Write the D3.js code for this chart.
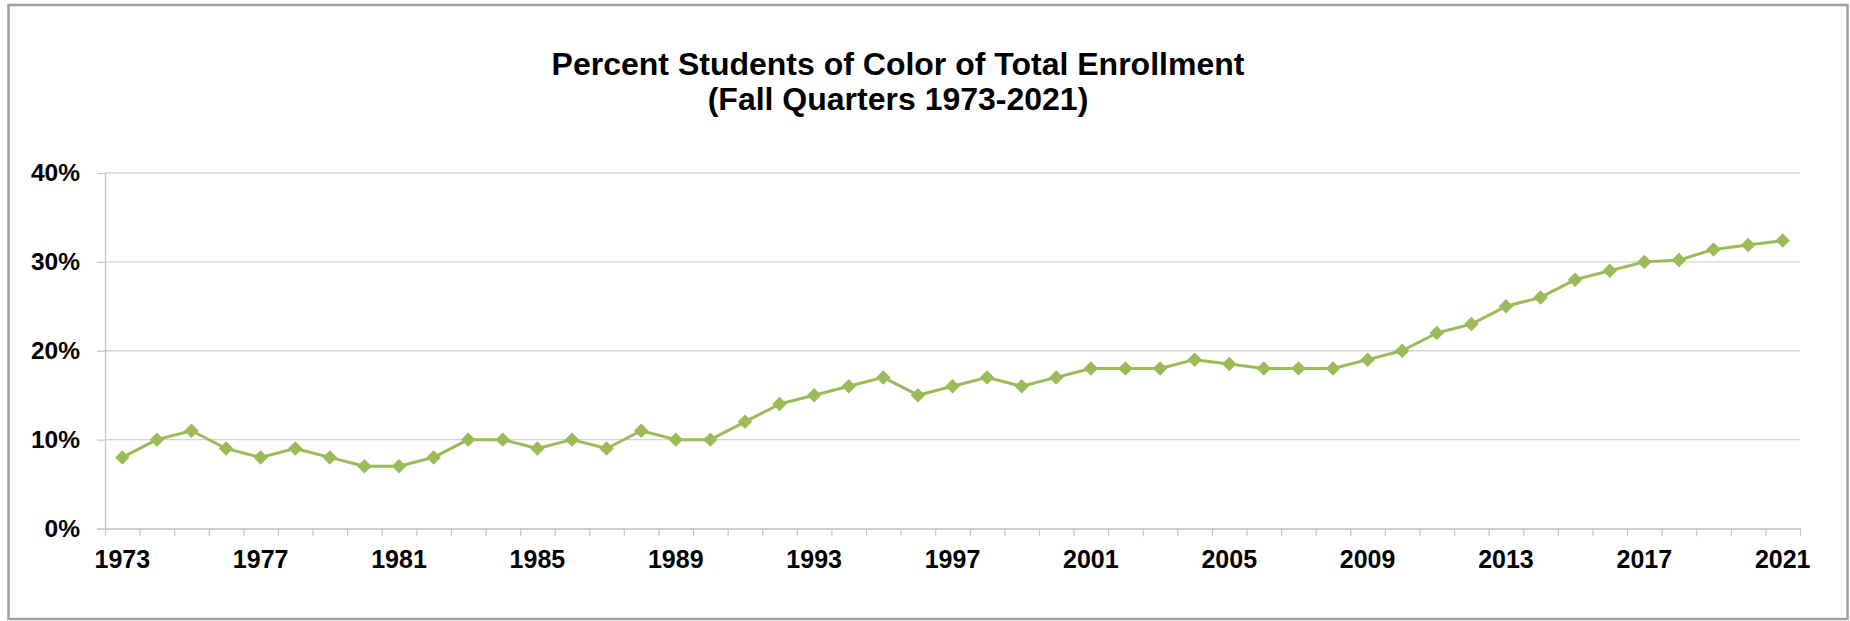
<!DOCTYPE html>
<html>
<head>
<meta charset="utf-8">
<script src="https://cdn.jsdelivr.net/npm/d3@7/dist/d3.min.js"></script>
<style>
  html, body { margin: 0; padding: 0; background: #fff; }
  svg { display: block; }
  text { font-family: Arial, "Liberation Sans", sans-serif; font-weight: bold; fill: #000; }
</style>
</head>
<body>
<svg id="chart" width="1850" height="621"></svg>
<script>
// ---- data ----
const years = [1973,1974,1975,1976,1977,1978,1979,1980,1981,1982,1983,1984,1985,1986,1987,1988,1989,
               1990,1991,1992,1993,1994,1995,1996,1997,1998,1999,2000,2001,2002,2003,2004,2005,2006,2007,
               2008,2009,2010,2011,2012,2013,2014,2015,2016,2017,2018,2019,2020,2021];
const percentColor = [8,10,11,9,8,9,8,7,7,8,10,10,9,10,9,11,10,
                      10,12,14,15,16,17,15,16,17,16,17,18,18,18,19,18.5,18,18,
                      18,19,20,22,23,25,26,28,29,30,30.2,31.4,31.9,32.4];
const yTicks = [0, 10, 20, 30, 40];
const xLabelYears = [1973,1977,1981,1985,1989,1993,1997,2001,2005,2009,2013,2017,2021];
const titleLines = ["Percent Students of Color of Total Enrollment", "(Fall Quarters 1973-2021)"];

// ---- layout ----
const plot = { left: 105, right: 1800, top: 173, bottom: 528.5 };
const green = "#9BBB59";

const svg = d3.select("#chart");

// outer frame
svg.append("rect")
  .attr("x", 8.5).attr("y", 5).attr("width", 1839).attr("height", 614)
  .attr("fill", "#fff").attr("stroke", "#a0a0a0").attr("stroke-width", 2.5);

// title
svg.append("g").selectAll("text").data(titleLines).join("text")
  .attr("x", 898).attr("y", (d, i) => 75 + i * 35)
  .attr("text-anchor", "middle")
  .style("font-size", "32px")
  .text(d => d);

// scales
const x = d3.scaleBand().domain(years).range([plot.left, plot.right]).paddingInner(0).paddingOuter(0);
const xBound = d3.scaleLinear().domain([0, years.length]).range([plot.left, plot.right]);
const y = d3.scaleLinear().domain([0, 40]).range([plot.bottom, plot.top]);
const cx = d => x(d) + x.bandwidth() / 2;

// gridlines
svg.append("g").selectAll("line").data(yTicks.filter(t => t > 0)).join("line")
  .attr("x1", plot.left).attr("x2", plot.right)
  .attr("y1", d => y(d)).attr("y2", d => y(d))
  .attr("stroke", "#d4d4d4").attr("stroke-width", 1.4);

// y axis
const yAxis = svg.append("g").attr("transform", `translate(${plot.left},0)`)
  .call(d3.axisLeft(y).tickValues(yTicks).tickFormat(d => d + "%").tickSize(8).tickPadding(17));
yAxis.select(".domain").attr("stroke", "#c4c4c4").attr("stroke-width", 1.2);
yAxis.selectAll(".tick line").attr("stroke", "#c4c4c4").attr("stroke-width", 1.2);
yAxis.selectAll("text").style("font-size", "24.5px").attr("font-family", null);

// x axis tick marks (category boundaries)
const xTickAxis = svg.append("g").attr("transform", `translate(0,${plot.bottom})`)
  .call(d3.axisBottom(xBound).tickValues(d3.range(0, years.length + 1)).tickFormat("").tickSize(8).tickSizeOuter(0));
xTickAxis.select(".domain").attr("stroke", "#bfbfbf").attr("stroke-width", 1.6);
xTickAxis.selectAll(".tick line").attr("stroke", "#c8c8c8").attr("stroke-width", 1.2);

// x axis labels
const xLabelAxis = svg.append("g").attr("transform", `translate(0,${plot.bottom})`)
  .call(d3.axisBottom(x).tickValues(xLabelYears).tickSize(0).tickPadding(22));
xLabelAxis.select(".domain").remove();
xLabelAxis.selectAll("text").style("font-size", "25px").attr("font-family", null);

// line
const line = d3.line().x((d, i) => cx(years[i])).y(d => y(d));
svg.append("path").datum(percentColor)
  .attr("d", line).attr("fill", "none").attr("stroke", green).attr("stroke-width", 3)
  .attr("stroke-linejoin", "round");

// markers (diamonds)
svg.append("g").selectAll("path").data(percentColor).join("path")
  .attr("transform", (d, i) => `translate(${cx(years[i])},${y(d)}) rotate(45)`)
  .attr("d", d3.symbol().type(d3.symbolSquare).size(105))
  .attr("fill", green);
</script>
</body>
</html>
